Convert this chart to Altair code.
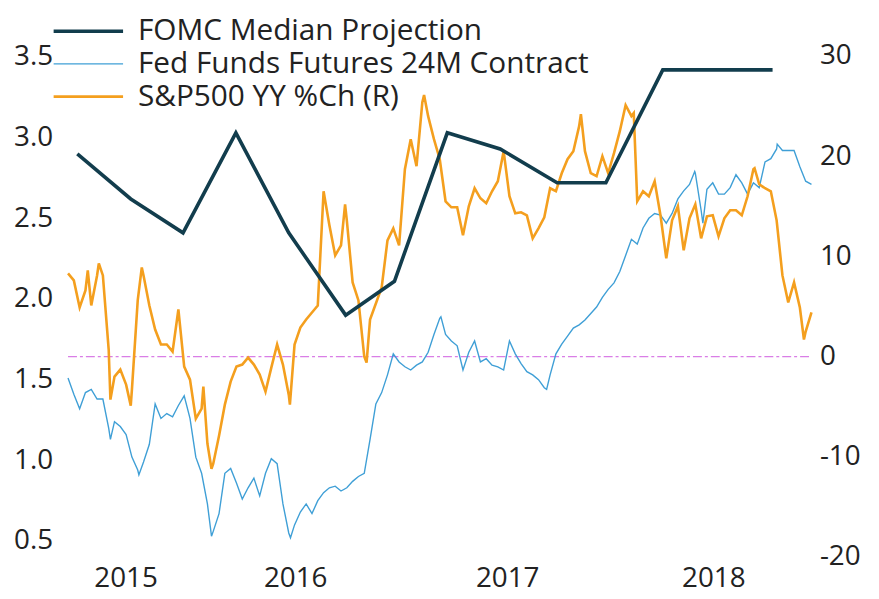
import altair as alt
import pandas as pd

# ---------------- data ----------------
series_names = ["FOMC Median Projection", "Fed Funds Futures 24M Contract", "S&P500 YY %Ch (R)"]

fomc_dates = ["2015-06-17", "2015-09-17", "2015-12-16", "2016-03-16", "2016-06-15", "2016-09-21",
              "2016-12-14", "2017-03-15", "2017-06-14", "2017-09-20", "2017-12-13", "2018-03-21",
              "2018-06-13", "2018-09-26"]
fomc_values = [2.90, 2.62, 2.41, 3.03, 2.41, 1.90, 2.11, 3.03, 2.93, 2.72, 2.72, 3.42, 3.42, 3.42]

# regular observations (every 10 days from 1 Jun 2015)
obs_start = "2015-06-01"
obs_count = 129

futures_values = [
    1.51, 1.41, 1.32, 1.42, 1.44, 1.38, 1.38, 1.20, 1.24, 1.21,
    1.16, 1.02, 0.94, 0.99, 1.10, 1.35, 1.26, 1.29, 1.27, 1.34,
    1.40, 1.26, 1.02, 0.92, 0.73, 0.56, 0.67, 0.92, 0.95, 0.86,
    0.76, 0.83, 0.89, 0.78, 0.92, 1.01, 0.98, 0.73, 0.55, 0.60,
    0.68, 0.73, 0.67, 0.75, 0.80, 0.83, 0.84, 0.81, 0.83, 0.87,
    0.90, 0.92, 1.13, 1.35, 1.42, 1.53, 1.66, 1.61, 1.58, 1.56,
    1.59, 1.61, 1.67, 1.78, 1.88, 1.78, 1.74, 1.71, 1.56, 1.67,
    1.74, 1.61, 1.63, 1.59, 1.58, 1.56, 1.74, 1.66, 1.60, 1.55,
    1.53, 1.50, 1.45, 1.53, 1.66, 1.72, 1.77, 1.82, 1.84, 1.87,
    1.91, 1.95, 2.01, 2.06, 2.10, 2.17, 2.27, 2.37, 2.34, 2.44,
    2.50, 2.53, 2.52, 2.47, 2.53, 2.62, 2.67, 2.71, 2.78, 2.55,
    2.68, 2.72, 2.65, 2.65, 2.69, 2.77, 2.72, 2.65, 2.72, 2.69,
    2.85, 2.87, 2.93, 2.92, 2.92, 2.92, 2.82, 2.73, 2.71,
]
# extra readings at visible spikes / troughs
futures_extra_dates = ["2015-08-13", "2015-10-01", "2016-02-03", "2016-06-18", "2017-03-04",
                       "2017-09-02", "2018-05-15", "2018-05-29", "2018-10-04"]
futures_extra_values = [1.13, 0.91, 0.53, 0.52, 1.89, 1.44, 2.79, 2.47, 2.96]

spx_values = [
    8.3, 7.6, 4.9, 6.6, 5.1, 8.1, 8.1, 0.7, -2.0, -1.3,
    -2.8, -3.3, 5.6, 8.1, 5.1, 2.7, 1.2, 1.2, 0.5, 4.7,
    -1.0, -2.3, -6.2, -5.2, -8.7, -10.7, -7.9, -4.8, -2.5, -1.0,
    -0.8, -0.1, -0.8, -1.8, -3.5, -1.1, 1.2, -0.8, -3.8, 1.2,
    2.9, 3.7, 4.4, 5.1, 16.5, 13.1, 10.1, 11.1, 13.6, 7.4,
    5.6, 0.0, 3.7, 5.3, 6.9, 11.6, 12.8, 11.1, 18.7, 21.7,
    19.0, 25.4, 24.0, 21.7, 19.7, 15.5, 14.9, 14.9, 12.1, 15.0,
    16.8, 15.8, 15.3, 16.5, 17.5, 20.5, 16.0, 14.3, 14.4, 14.1,
    11.8, 12.8, 13.9, 16.8, 16.5, 18.3, 19.7, 20.5, 23.0, 20.5,
    18.3, 18.0, 20.0, 18.3, 20.3, 22.5, 25.1, 24.0, 15.5, 16.5,
    16.0, 17.5, 14.1, 9.8, 13.6, 15.0, 10.6, 13.8, 15.2, 11.8,
    14.0, 14.1, 12.0, 13.8, 14.6, 14.6, 14.1, 16.0, 18.7, 17.2,
    16.8, 16.5, 13.6, 8.1, 5.4, 7.4, 4.9, 2.5, 4.4,
]
spx_extra_dates = ["2015-07-05", "2015-07-24", "2015-08-13", "2015-09-17", "2015-10-06",
                   "2016-01-20", "2016-02-03", "2016-06-17", "2016-09-20", "2016-10-27",
                   "2017-02-03", "2017-10-31", "2018-01-30", "2018-08-26", "2018-11-19"]
spx_extra_values = [8.6, 9.3, -4.3, -4.9, 8.9, -3.0, -11.2, -4.8, 15.2, -0.6,
                    26.1, 24.2, 24.3, 18.8, 1.7]

left_ticks = [0.5, 1.0, 1.5, 2.0, 2.5, 3.0, 3.5]
right_ticks = [-20, -10, 0, 10, 20, 30]
year_labels = [alt.DateTime(year=2015, month=9, date=8), alt.DateTime(year=2016, month=6, date=26),
               alt.DateTime(year=2017, month=6, date=26), alt.DateTime(year=2018, month=6, date=16)]

# ---------------- tables ----------------
obs_dates = pd.date_range(obs_start, periods=obs_count, freq="10D")
fomc_df = pd.DataFrame({"date": pd.to_datetime(fomc_dates), "value": fomc_values, "series": series_names[0]})
fut_df = pd.concat([
    pd.DataFrame({"date": obs_dates, "value": futures_values}),
    pd.DataFrame({"date": pd.to_datetime(futures_extra_dates), "value": futures_extra_values}),
]).sort_values("date").assign(series=series_names[1])
spx_df = pd.concat([
    pd.DataFrame({"date": obs_dates, "value": spx_values}),
    pd.DataFrame({"date": pd.to_datetime(spx_extra_dates), "value": spx_extra_values}),
]).sort_values("date").assign(series=series_names[2])
zero_df = pd.DataFrame({"date": [obs_dates[0]], "end": [obs_dates[-1]], "zero": [0]})

FONT = "Open Sans"
TXT = "#222222"
colors = ["#123d4d", "#3f9fd6", "#f49f1e"]
widths = [3.6, 1.4, 2.6]

x_scale = alt.Scale(domain=[alt.DateTime(year=2015, month=5, date=26), alt.DateTime(year=2018, month=12, date=2)])
left_scale = alt.Scale(domain=[0.334, 3.592], nice=False, zero=False)
right_scale = alt.Scale(domain=[-21.09, 31.39], nice=False, zero=False)

x_axis = alt.Axis(values=year_labels, format="%Y", title=None, domain=False, ticks=False,
                  grid=False, labelFont=FONT, labelFontSize=28, labelColor=TXT,
                  labelPadding=-3, labelFlush=False)
x_enc = alt.X("date:T", scale=x_scale, axis=x_axis)

legend = alt.Legend(title=None, orient="none", legendX=9, legendY=-26, direction="vertical",
                    symbolType="M-5,0H5", symbolSize=196, labelFont=FONT, labelFontSize=30,
                    labelColor=TXT, labelOffset=35, rowPadding=3, labelLimit=600)
color_enc = alt.Color("series:N", scale=alt.Scale(domain=series_names, range=colors), legend=legend)
width_enc = alt.StrokeWidth("series:N", scale=alt.Scale(type="ordinal", domain=series_names, range=widths),
                            legend=legend)

zero_rule = alt.Chart(zero_df).mark_rule(color="#d97ee6", strokeDash=[9, 3, 3, 3], strokeWidth=1.3).encode(
    x=x_enc,
    x2="end:T",
    y=alt.Y("zero:Q", scale=right_scale, axis=None),
)

fut_line = alt.Chart(fut_df).mark_line().encode(
    x=x_enc,
    y=alt.Y("value:Q", scale=left_scale,
            axis=alt.Axis(orient="left", values=left_ticks, format=".1f", title=None, domain=False,
                          ticks=False, grid=False, labelFont=FONT, labelFontSize=28, labelColor=TXT,
                          labelPadding=12, labelFlush=False)),
    color=color_enc, strokeWidth=width_enc,
)

spx_line = alt.Chart(spx_df).mark_line().encode(
    x=x_enc,
    y=alt.Y("value:Q", scale=right_scale,
            axis=alt.Axis(orient="right", values=right_ticks, labelExpr="'' + datum.value", title=None,
                          domain=False, ticks=False, grid=False, labelFont=FONT, labelFontSize=28,
                          labelColor=TXT, labelPadding=8, labelFlush=False)),
    color=color_enc, strokeWidth=width_enc,
)

fomc_line = alt.Chart(fomc_df).mark_line().encode(
    x=x_enc,
    y=alt.Y("value:Q", scale=left_scale, axis=None),
    color=color_enc, strokeWidth=width_enc,
)

chart = alt.layer(zero_rule, fut_line, spx_line, fomc_line).resolve_scale(
    y="independent"
).properties(
    width=753, height=530,
    autosize=alt.AutoSizeParams(type="none"),
    padding={"left": 57, "top": 32, "right": 60, "bottom": 25},
    background="white",
).configure_view(stroke=None)

chart.save("out.html", embed_options={"renderer": "svg", "actions": False})
